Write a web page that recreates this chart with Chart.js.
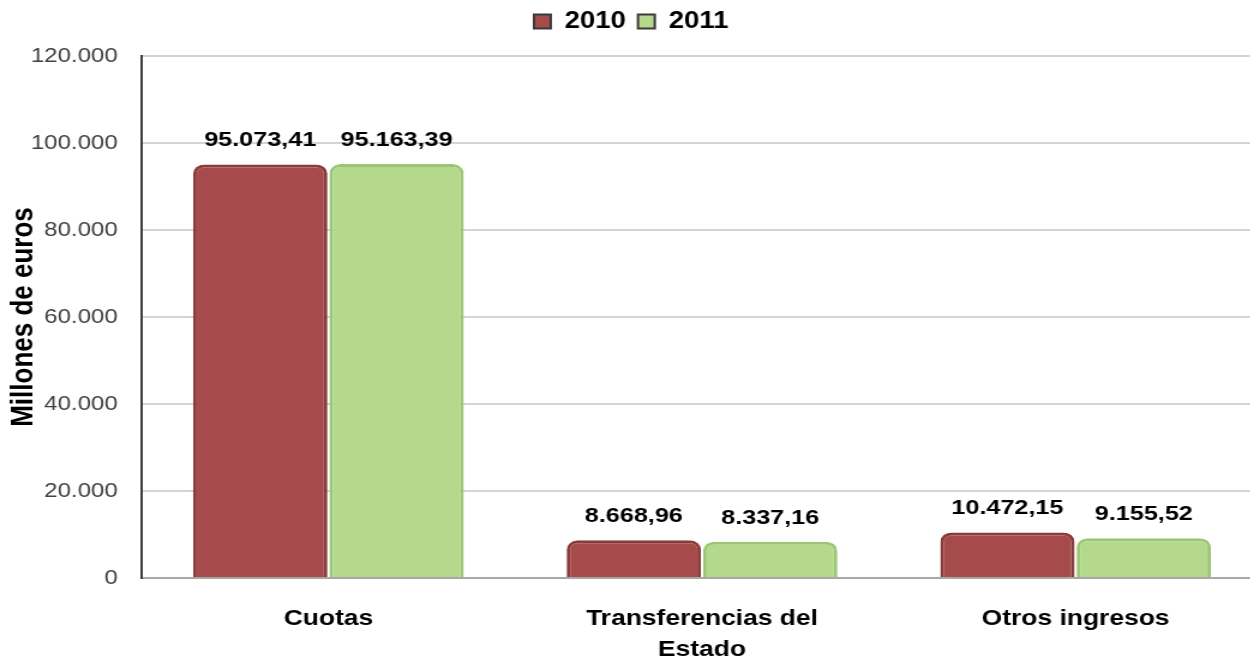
<!DOCTYPE html>
<html>
<head>
<meta charset="utf-8">
<script src="https://cdn.jsdelivr.net/npm/chart.js@4.4.1/dist/chart.umd.min.js"></script>
<style>
  html, body { margin: 0; padding: 0; background: #ffffff; overflow: hidden; }
  #wrap { width: 1052px; height: 661px; transform: scaleX(1.2); transform-origin: 0 0; }
  canvas { display: block; }
</style>
</head>
<body>
<div id="wrap"><canvas id="c" width="1052" height="661"></canvas></div>
<script>
// Ingresos por categoría, en millones de euros
const categories = ['Cuotas', ['Transferencias del', 'Estado'], 'Otros ingresos'];
const seriesNames = ['2010', '2011'];
const values2010 = [95073.41, 8668.96, 10472.15];
const values2011 = [95163.39, 8337.16, 9155.52];
const yTicks = [0, 20000, 40000, 60000, 80000, 100000, 120000];

// Spanish number style: '.' for thousands, ',' for decimals
function fmt(v, decimals) {
  const parts = v.toFixed(decimals).split('.');
  parts[0] = parts[0].replace(/\B(?=(\d{3})+(?!\d))/g, '.');
  return parts.length > 1 ? parts[0] + ',' + parts[1] : parts[0];
}

const valueLabels = {
  id: 'valueLabels',
  afterDatasetsDraw(chart) {
    const ctx = chart.ctx;
    ctx.save();
    ctx.font = 'bold 21px "Liberation Sans", Arial, sans-serif';
    ctx.fillStyle = '#000000';
    ctx.textAlign = 'center';
    ctx.textBaseline = 'alphabetic';
    chart.data.datasets.forEach((ds, i) => {
      chart.getDatasetMeta(i).data.forEach((bar, j) => {
        ctx.fillText(fmt(ds.data[j], 2), bar.x, bar.y - 18);
      });
    });
    ctx.restore();
  }
};

const legendSpace = {
  id: 'legendSpace',
  beforeInit(chart) {
    const fit = chart.legend.fit;
    chart.legend.fit = function () {
      fit.call(this);
      this.height = 56;
    };
  }
};

new Chart(document.getElementById('c'), {
  type: 'bar',
  data: {
    labels: categories,
    datasets: [
      {
        label: seriesNames[0],
        data: values2010,
        backgroundColor: '#a64b4b',
        borderColor: '#8c3b3b',
        borderWidth: 3,
        borderSkipped: 'bottom',
        borderRadius: { topLeft: 9, topRight: 9 },
        barPercentage: 0.985,
        categoryPercentage: 0.73
      },
      {
        label: seriesNames[1],
        data: values2011,
        backgroundColor: '#b4d98c',
        borderColor: '#9bc774',
        borderWidth: 3,
        borderSkipped: 'bottom',
        borderRadius: { topLeft: 9, topRight: 9 },
        barPercentage: 0.985,
        categoryPercentage: 0.73
      }
    ]
  },
  options: {
    responsive: false,
    animation: false,
    devicePixelRatio: 1,
    layout: { padding: { left: 0, right: 0, top: 0, bottom: 0 } },
    plugins: {
      tooltip: { enabled: false },
      legend: {
        position: 'top',
        labels: {
          boxWidth: 14,
          boxHeight: 14,
          padding: 10,
          color: '#000000',
          font: { family: '"Liberation Sans", Arial, sans-serif', size: 23, weight: 'bold' },
          generateLabels(chart) {
            return chart.data.datasets.map((ds, i) => ({
              text: ds.label,
              fillStyle: ds.backgroundColor,
              strokeStyle: '#3a3a3a',
              lineWidth: 2,
              fontColor: '#000000',
              hidden: false,
              datasetIndex: i
            }));
          }
        }
      }
    },
    scales: {
      x: {
        grid: { display: false, drawTicks: false },
        border: { display: true, color: '#a8a8a8', width: 2 },
        ticks: {
          color: '#000000',
          padding: 26,
          maxRotation: 0,
          autoSkip: false,
          font: { family: '"Liberation Sans", Arial, sans-serif', size: 22, weight: 'bold', lineHeight: 1.4 }
        },
        afterFit(axis) { axis.height = 83; }
      },
      y: {
        min: 0,
        max: 120000,
        afterBuildTicks(axis) { axis.ticks = yTicks.map(v => ({ value: v })); },
        grid: { color: '#d4d4d4', lineWidth: 2, drawTicks: false },
        border: { display: true, color: '#404040', width: 2 },
        ticks: {
          color: '#404040',
          padding: 20,
          font: { family: '"Liberation Sans", Arial, sans-serif', size: 20 },
          callback: v => fmt(v, 0)
        },
        title: {
          display: true,
          text: 'Millones de euros',
          color: '#000000',
          padding: { top: 4, bottom: 0 },
          font: { family: '"Liberation Sans", Arial, sans-serif', size: 26, weight: 'bold' }
        },
        afterFit(axis) { axis.width = 118; }
      }
    }
  },
  plugins: [valueLabels, legendSpace]
});
</script>
</body>
</html>
